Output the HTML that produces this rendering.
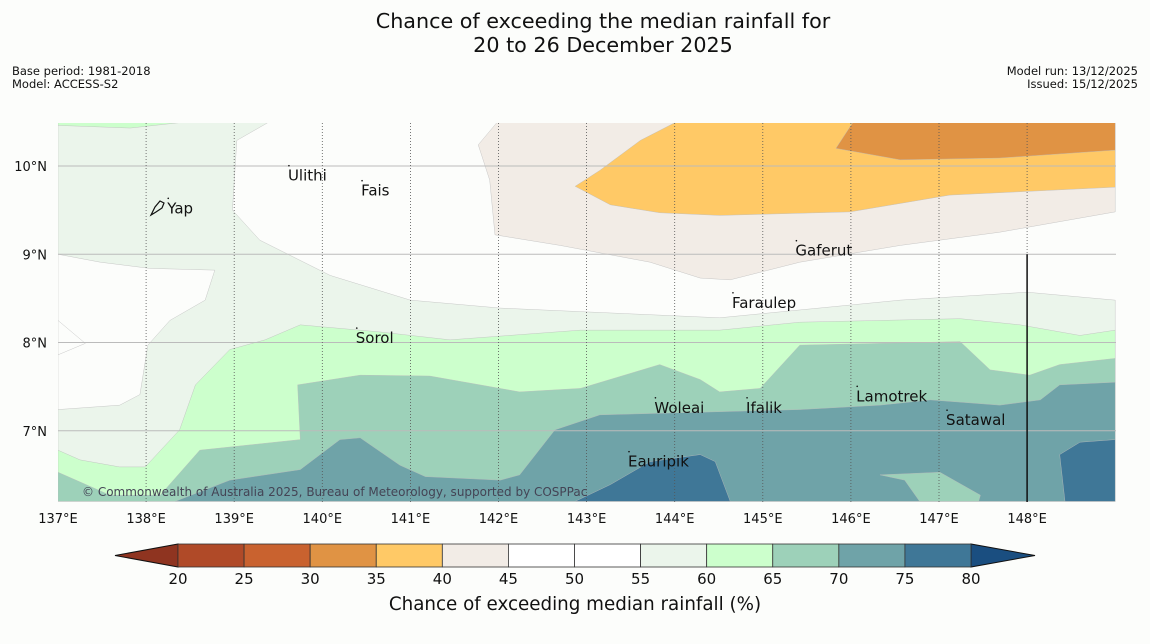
<!DOCTYPE html>
<html><head><meta charset="utf-8"><style>
html,body{margin:0;padding:0;background:#fcfdfb;}
svg{display:block;font-family:"DejaVu Sans","Liberation Sans",sans-serif;}
</style></head><body>
<svg id="chart" width="1150" height="644" viewBox="0 0 1150 644" xmlns="http://www.w3.org/2000/svg">
<rect x="0" y="0" width="1150" height="644" fill="#fcfdfb"/>
<text x="603" y="28" font-size="20.7" text-anchor="middle" fill="#111">Chance of exceeding the median rainfall for</text>
<text x="603" y="52" font-size="20.7" text-anchor="middle" fill="#111">20 to 26 December 2025</text>
<text x="12" y="75" font-size="11.5" fill="#111">Base period: 1981-2018</text>
<text x="12" y="88" font-size="11.5" fill="#111">Model: ACCESS-S2</text>
<text x="1138" y="75" font-size="11.5" text-anchor="end" fill="#111">Model run: 13/12/2025</text>
<text x="1138" y="88" font-size="11.5" text-anchor="end" fill="#111">Issued: 15/12/2025</text>
<defs><clipPath id="mapclip"><rect x="58" y="123" width="1058" height="379"/></clipPath></defs>
<g id="map" clip-path="url(#mapclip)"></g>
<g id="overlay"></g>
<g id="cbar"></g>
<text x="575" y="610" font-size="18.3" text-anchor="middle" fill="#111">Chance of exceeding median rainfall (%)</text>
</svg>
<script>
const lonTicks=[137,138,139,140,141,142,143,144,145,146,147,148];
const latTicks=[10,9,8,7];
const cbLevels=[20,25,30,35,40,45,50,55,60,65,70,75,80];
const cbColors=["#b04a28","#c9622f","#e09344","#ffc966","#f2ece6","#ffffff","#ffffff","#ebf5eb","#ccffcc","#9dd1b9","#6fa3a8","#3f7797"];
const cbUnder="#8f3420", cbOver="#1a4e80";
// contour regions [lon,lat]
const regionG55=[[137,10.49],[139.38,10.49],[139.03,10.29],[138.98,9.5],[139.29,9.16],[140.09,8.76],[141.0,8.48],[142.02,8.39],[144.51,8.28],[146.56,8.48],[148.0,8.57],[149,8.48],[149,6.2],[137,6.2]];
const regionWhiteLobe=[[137,9.0],[137.48,8.91],[138.04,8.84],[138.78,8.82],[138.67,8.48],[138.27,8.25],[138.02,7.97],[137.93,7.41],[137.7,7.29],[137,7.24]];
const regionWhiteNotch=[[137,8.25],[137.31,7.99],[137,7.86]];
const regionTopGreen=[[137,10.49],[138.37,10.49],[137.82,10.43],[137,10.46]];
const regionG60=[[137,6.78],[137.25,6.67],[137.7,6.59],[137.99,6.59],[138.38,7.01],[138.56,7.52],[138.95,7.92],[139.35,8.03],[139.75,8.2],[140.65,8.12],[141.45,8.03],[142.93,8.14],[144.51,8.14],[145.42,8.23],[147.24,8.27],[147.92,8.2],[148.6,8.08],[149,8.14],[149,6.2],[137,6.2]];
const regionG65=[[137,6.53],[137.25,6.42],[137.59,6.27],[138.16,6.27],[138.61,6.78],[139.75,6.9],[139.72,7.52],[140.43,7.63],[141.22,7.62],[141.79,7.52],[142.24,7.44],[142.93,7.48],[143.83,7.75],[144.29,7.58],[144.51,7.44],[144.97,7.48],[145.42,7.97],[147.24,8.01],[147.58,7.69],[148.03,7.63],[148.37,7.75],[149,7.82],[149,6.2],[137,6.2]];
const regionG70=[[138.33,6.2],[138.95,6.44],[139.75,6.56],[140.2,6.9],[140.43,6.92],[140.88,6.61],[141.17,6.48],[142.02,6.44],[142.24,6.5],[142.64,7.01],[143.15,7.18],[144.29,7.21],[145.42,7.24],[146.33,7.29],[146.9,7.35],[147.69,7.29],[148.15,7.35],[148.37,7.52],[149,7.55],[149,6.2]];
const regionPatch65=[[146.33,6.5],[147.01,6.53],[147.47,6.27],[147.45,6.2],[146.78,6.2],[146.61,6.44]];
const regionG75a=[[142.87,6.2],[143.27,6.39],[143.72,6.65],[144.29,6.73],[144.46,6.65],[144.63,6.2]];
const regionG75b=[[148.43,6.2],[148.37,6.73],[148.6,6.87],[149,6.9],[149,6.2]];
const regionL45=[[141.98,10.49],[141.77,10.24],[141.9,9.84],[141.96,9.22],[142.7,9.1],[143.72,8.91],[144.29,8.73],[144.63,8.71],[145.42,8.91],[146.56,9.1],[147.69,9.25],[149,9.48],[149,10.49]];
const regionL40=[[144.0,10.49],[143.61,10.29],[143.15,9.95],[142.87,9.77],[143.27,9.56],[143.83,9.47],[144.51,9.44],[145.99,9.48],[147.12,9.67],[149,9.76],[149,10.49]];
const regionL35=[[146.02,10.49],[145.83,10.2],[146.56,10.07],[147.69,10.09],[149,10.18],[149,10.49]];
const places=["Ulithi","Fais","Yap","Gaferut","Faraulep","Sorol","Woleai","Ifalik","Lamotrek","Satawal","Eauripik"];
const placeLon=[139.61,140.44,138.24,145.37,144.65,140.38,143.77,144.81,146.06,147.08,143.47];
const placeLat=[9.89,9.72,9.52,9.04,8.45,8.05,7.26,7.26,7.39,7.12,6.65];

const NS="http://www.w3.org/2000/svg";
const xS=lon=>58+(lon-137)*88.1;
const yS=lat=>166+(10-lat)*88.25;
const cbX=v=>178+(v-20)*(793/60);
function mk(tag,attrs,parent){const e=document.createElementNS(NS,tag);for(const k in attrs)e.setAttribute(k,attrs[k]);parent.appendChild(e);return e;}
const map=document.getElementById('map'), ov=document.getElementById('overlay'), cb=document.getElementById('cbar');
mk('rect',{x:58,y:123,width:1058,height:379,fill:'#fcfdfb'},map);
const layers=[[regionG55,'#ebf5eb','region-55-60'],[regionWhiteLobe,'#fcfdfb','region-white-lobe'],[regionWhiteNotch,'#fcfdfb','region-white-notch'],[regionTopGreen,'#ccffcc','region-top-green'],[regionG60,'#ccffcc','region-60-65'],[regionG65,'#9dd1b9','region-65-70'],[regionG70,'#6fa3a8','region-70-75'],[regionPatch65,'#9dd1b9','region-65-70-patch'],[regionG75a,'#3f7797','region-75-80-west'],[regionG75b,'#3f7797','region-75-80-east'],[regionL45,'#f2ece6','region-40-45'],[regionL40,'#ffc966','region-35-40'],[regionL35,'#e09344','region-30-35']];
layers.forEach(l=>{
  const p=mk('polygon',{points:l[0].map(d=>xS(d[0])+','+yS(d[1])).join(' '),fill:l[1],stroke:'#bbb','stroke-width':0.4},map);
  
  
});
latTicks.forEach(t=>{
  const g=mk('line',{x1:58,x2:1116,y1:yS(t),y2:yS(t),stroke:'#bbb','stroke-width':1},ov);
  
  
  const tx=mk('text',{x:47,y:yS(t)+5,'font-size':13,'text-anchor':'end',fill:'#111'},ov);
  tx.textContent=t+'°N';
  
  
});
lonTicks.forEach(t=>{
  if(t>137){
    const g=mk('line',{x1:xS(t),x2:xS(t),y1:123,y2:502,stroke:'#555','stroke-width':0.8,'stroke-dasharray':'1,2'},ov);
    
    
  }
  const tx=mk('text',{x:xS(t),y:523,'font-size':13,'text-anchor':'middle',fill:'#111'},ov);
  tx.textContent=t+'°E';
  
  
});
const bl=mk('line',{x1:xS(148),x2:xS(148),y1:yS(9),y2:502,stroke:'#111','stroke-width':1.5},ov);


places.forEach((n,i)=>{
  const d=mk('circle',{cx:xS(placeLon[i])+1,cy:yS(placeLat[i])-10,r:0.8,fill:'#111'},ov);
  
  
  const tx=mk('text',{x:xS(placeLon[i]),y:yS(placeLat[i])+5,'font-size':15,fill:'#111'},ov);
  tx.textContent=n;
  
  
});
const yap=mk('path',{d:'M151,215 L155,207 L160,201 L164,203 L162,208 L156,212 Z',fill:'none',stroke:'#111','stroke-width':1.2},ov);


const cr=mk('text',{x:82,y:496,'font-size':12,fill:'#445'},ov);
cr.textContent='© Commonwealth of Australia 2025, Bureau of Meteorology, supported by COSPPac';


// colorbar
const u=mk('polygon',{points:'115,555.5 178,544 178,567',fill:cbUnder,stroke:'#111','stroke-width':1},cb);


const o=mk('polygon',{points:'1035,555.5 971,544 971,567',fill:cbOver,stroke:'#111','stroke-width':1},cb);


cbColors.forEach((c,i)=>{
  const r=mk('rect',{x:cbX(cbLevels[i]),y:544,width:cbX(cbLevels[i+1])-cbX(cbLevels[i]),height:23,fill:c,stroke:'#333','stroke-width':0.8},cb);
  
  
});
cbLevels.forEach(v=>{
  const tx=mk('text',{x:cbX(v),y:584,'font-size':15,'text-anchor':'middle',fill:'#111'},cb);
  tx.textContent=v;
  
  
});
</script>
</body></html>
